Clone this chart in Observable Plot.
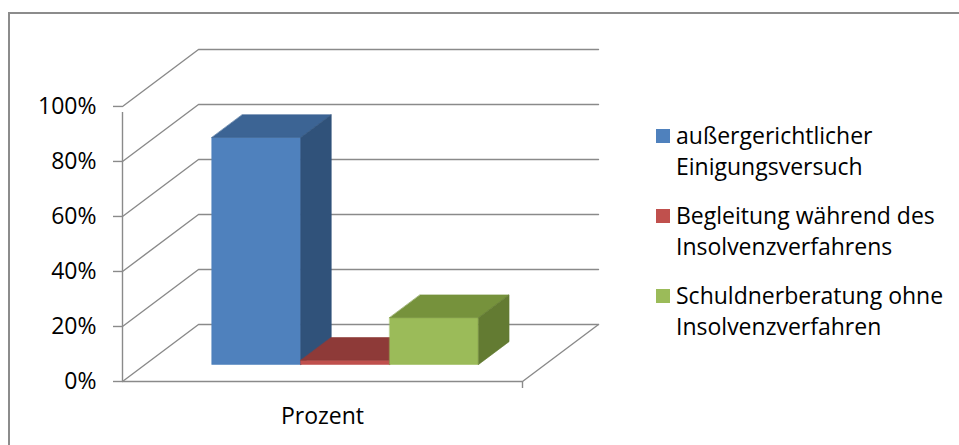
<!DOCTYPE html>
<html>
<head>
<meta charset="utf-8">
<script src="https://cdn.jsdelivr.net/npm/d3@7"></script>
<script src="https://cdn.jsdelivr.net/npm/@observablehq/plot@0.6"></script>
<style>
  html, body { margin: 0; padding: 0; background: #fff; }
  #wrap { position: relative; width: 959px; height: 445px; overflow: hidden; font-family: "Open Sans", sans-serif; }
  #frame { position: absolute; left: 8px; top: 12px; width: 1000px; height: 500px; border-left: 2px solid #8c8c8c; border-top: 2px solid #8c8c8c; }
  #chart { position: absolute; left: 0; top: 0; }
  #legend { position: absolute; left: 656px; top: 120px; font-size: 23px; line-height: 31px; color: #000; }
  .entry { position: relative; height: 80px; padding-left: 20px; white-space: nowrap; }
  .sw { position: absolute; left: 0; top: 9px; width: 14px; height: 14px; }
</style>
</head>
<body>
<div id="wrap">
  <div id="frame"></div>
  <div id="chart"></div>
  <div id="legend"></div>
</div>
<script>
// ---- data ----
const categories = ["Prozent"];
const seriesLine1 = ["außergerichtlicher", "Begleitung während des", "Schuldnerberatung ohne"];
const seriesLine2 = ["Einigungsversuch", "Insolvenzverfahrens", "Insolvenzverfahren"];
const values = [82.5, 1.5, 17];
const yTicks = [0, 20, 40, 60, 80, 100];

// ---- styles ----
const frontColors = ["#4F81BD", "#C0504D", "#9BBB59"];
const topColors = ["#3C6494", "#8E3A38", "#76923C"];
const sideColors = ["#30527A", "#773130", "#637B32"];
const gridColor = "#8a8a8a";

// ---- pseudo-3D projection (depth offsets in scale units) ----
const DX = 0.19;   // back wall x-shift (category units)
const DY = 20.7;   // back wall y-shift (value units)
const P = (u, v, d) => ({x: u + d * DX, y: v + d * DY});

// gridlines on left wall + back wall
const grid = yTicks.flatMap(t => [P(0, t, 0), P(0, t, 1), P(1, t, 1)].map(p => ({...p, t})));
// floor front edge and right edge
const floor = [P(0, 0, 0), P(1, 0, 0), P(1, 0, 1)];

// bars
const nS = values.length;
const w = 1 / (nS + 1.5);        // gap width 150%
const f0 = 0.3, f1 = 0.7;         // bar depth span
const marks = [];
values.forEach((v, i) => {
  const u0 = 0.75 * w + i * w, u1 = u0 + w;
  const front = [P(u0, 0, f0), P(u1, 0, f0), P(u1, v, f0), P(u0, v, f0)];
  const top = [P(u0, v, f0), P(u1, v, f0), P(u1, v, f1), P(u0, v, f1)];
  const side = [P(u1, 0, f0), P(u1, 0, f1), P(u1, v, f1), P(u1, v, f0)];
  [[front, frontColors[i]], [top, topColors[i]], [side, sideColors[i]]].forEach(([pts, c]) => {
    marks.push(Plot.line(pts, {x: "x", y: "y", curve: "linear-closed", fill: c, stroke: c, strokeWidth: 0.6}));
  });
});

const chart = Plot.plot({
  width: 959,
  height: 445,
  marginLeft: 122,
  marginRight: 361,
  marginTop: 49,
  marginBottom: 64,
  style: {fontFamily: "Open Sans, sans-serif", fontSize: "23px", color: "#000", background: "transparent"},
  x: {domain: [0, 1 + DX], axis: null},
  y: {domain: [0, 100 + DY], axis: null},
  marks: [
    Plot.line(grid, {x: "x", y: "y", z: "t", stroke: gridColor, strokeWidth: 1.4}),
    Plot.line(floor, {x: "x", y: "y", stroke: gridColor, strokeWidth: 1.4}),
    Plot.ruleX([0], {y1: 0, y2: 100, stroke: gridColor, strokeWidth: 1.4, insetBottom: -6}),
    Plot.ruleX([1], {y1: 0, y2: 0, stroke: gridColor, strokeWidth: 1.4, insetBottom: -7}),
    Plot.axisY({ticks: yTicks, tickFormat: d => d + "%", tickSize: 9, tickPadding: 17, stroke: gridColor, strokeWidth: 1.4, fill: "#000", label: null}),
    ...marks,
    Plot.text(categories, {x: (d, i) => i + 0.5, y: () => 0, text: d => d, dy: 35, fill: "#000", fontSize: 23})
  ]
});
document.getElementById("chart").appendChild(chart);

// legend
const lg = document.getElementById("legend");
seriesLine1.forEach((s, i) => {
  const e = document.createElement("div");
  e.className = "entry";
  e.innerHTML = `<span class="sw" style="background:${frontColors[i]}"></span>${s}<br>${seriesLine2[i]}`;
  lg.appendChild(e);
});
</script>
</body>
</html>
